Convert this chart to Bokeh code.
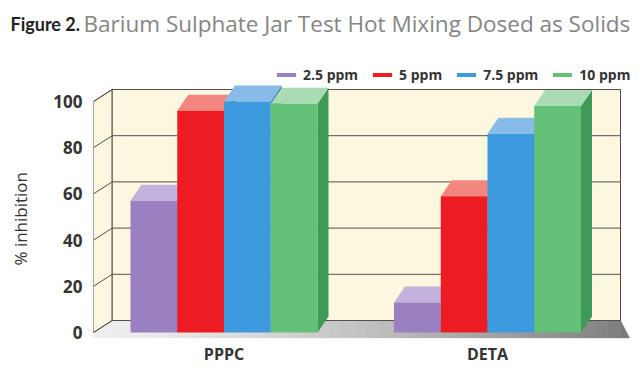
from bokeh.plotting import figure
from bokeh.layouts import column
from bokeh.models import Range1d, FixedTicker, Legend, LegendItem
from bokeh.core.properties import value
from bokeh.embed import file_html
from bokeh.resources import INLINE

# ---------------- data ----------------
title_bold = "Figure 2."
title_rest = "Barium Sulphate Jar Test Hot Mixing Dosed as Solids"
categories = ["PPPC", "DETA"]
series_names = ["2.5 ppm", "5 ppm", "7.5 ppm", "10 ppm"]
ppm_2_5 = [57, 13]
ppm_5 = [96, 59]
ppm_7_5 = [100, 86]
ppm_10 = [99, 98]
series_values = [ppm_2_5, ppm_5, ppm_7_5, ppm_10]
y_ticks = [0, 20, 40, 60, 80, 100]
y_label = "% inhibition"

# ---------------- styles ----------------
front_colors = ["#9b80c1", "#ed1c24", "#3d9ade", "#63c177"]
top_colors = ["#c1b2de", "#f3877f", "#88bbe8", "#a9dcb3"]
side_colors = ["#7c66a3", "#b5161c", "#2d7bb8", "#3f9a5a"]
wall_fill = "#fdf7df"
wall_line = "#505050"

# ---------------- layout (page pixels) ----------------
PAGE_W = 640
TITLE_H = 42
PX_X = 263.5   # pixels per category unit
PX_Y = 2.31    # pixels per % unit


def xu(px):
    return px / PX_X


def yu(px):
    return px / PX_Y


frame_left, frame_right, frame_top, frame_bottom = 93, 632, 50, 338
base_y = 332                    # page px of value 0 (front edge)
x_start = 0.5 - xu(223.5 - frame_left)
x_end = x_start + xu(frame_right - frame_left)
y_start = -yu(frame_bottom - base_y)
y_end = yu(base_y - frame_top)

# ---------------- title strip ----------------
t = figure(frame_width=PAGE_W, frame_height=TITLE_H, output_backend="svg", toolbar_location=None,
           x_range=Range1d(0, PAGE_W), y_range=Range1d(TITLE_H, 0),
           x_axis_type=None, y_axis_type=None, title=None,
           min_border_left=0, min_border_right=0, min_border_top=0, min_border_bottom=0)
t.xgrid.visible = False
t.ygrid.visible = False
t.outline_line_color = None
t.text(x=[10], y=[23], text=[title_bold], text_font=value("Lato"), text_font_style="bold",
       text_font_size="18px", text_color="#222222", text_baseline="alphabetic", text_align="left")
t.text(x=[83], y=[23], text=[title_rest], text_font=value("Open Sans"), text_font_style="normal",
       text_font_size="22.5px", text_color="#858585", text_baseline="alphabetic", text_align="left")

# ---------------- main chart ----------------
p = figure(frame_width=frame_right - frame_left, frame_height=frame_bottom - frame_top,
           output_backend="svg", toolbar_location=None, title=None,
           x_range=Range1d(x_start, x_end), y_range=Range1d(y_start, y_end),
           min_border_left=frame_left, min_border_right=PAGE_W - frame_right,
           min_border_top=frame_top - TITLE_H, min_border_bottom=0)
p.xgrid.visible = False
p.ygrid.visible = False
p.outline_line_color = None
p.background_fill_color = "white"
p.border_fill_color = "white"

for fig in (t, p):
    if "frame_align" in fig.properties():
        fig.frame_align = False

# walls
dxw, dyw = xu(18.7), yu(12)
x_back_r = 0.5 + xu(620 - 223.5)
x_floor_r = 0.5 + xu(629 - 223.5)
y_floor_b = -yu(337.5 - base_y)
top_val = y_ticks[-1]

# floor (gray gradient strips)
fx, fy, fc = [], [], []
fx.append([x_start, x_start + dxw, x_start + dxw, x_start])
fy.append([0, dyw, y_floor_b, y_floor_b])
fc.append("#eeeeee")
N = 40
for i in range(N):
    a = x_start + dxw + (x_back_r - x_start - dxw) * i / N
    b = x_start + dxw + (x_back_r - x_start - dxw) * (i + 1) / N
    fx.append([a, b, b, a])
    fy.append([y_floor_b, y_floor_b, dyw, dyw])
    g = int(238 - 110 * ((i + 0.5) / N) ** 1.3)
    fc.append("#%02x%02x%02x" % (g, g, g))
fx.append([x_back_r, x_floor_r, x_back_r])
fy.append([dyw, y_floor_b, y_floor_b])
fc.append("#7a7a7a")
p.patches(fx, fy, fill_color=fc, line_color=fc, line_width=0.6)

# side wall
p.patch([x_start, x_start + dxw, x_start + dxw, x_start], [0, dyw, top_val + dyw, top_val],
        fill_color=wall_fill, line_color=wall_line, line_width=1)
# back wall
p.quad(left=[x_start + dxw], right=[x_back_r], bottom=[dyw], top=[top_val + dyw],
       fill_color=wall_fill, line_color=wall_line, line_width=1)
# grid lines
for tk in y_ticks:
    p.segment(x0=[x_start], y0=[tk], x1=[x_start + dxw], y1=[tk + dyw], line_color=wall_line, line_width=1)
    p.segment(x0=[x_start + dxw], y0=[tk + dyw], x1=[x_back_r], y1=[tk + dyw], line_color=wall_line, line_width=1)

# bars
bw = xu(46.75)
dxb, dyb = xu(11), yu(16)
legend_items = []
for s, vals in enumerate(series_values):
    lefts = [g + 0.5 + (s - 2) * bw for g in range(len(categories))]
    rights = [l + bw for l in lefts]
    side_xs = [[r, r + dxb, r + dxb, r] for r in rights]
    side_ys = [[0, dyb, v + dyb, v] for v in vals]
    top_xs = [[l, r, r + dxb, l + dxb] for l, r in zip(lefts, rights)]
    top_ys = [[v, v, v + dyb, v + dyb] for v in vals]
    p.patches(side_xs, side_ys, fill_color=side_colors[s], line_color=None)
    p.patches(top_xs, top_ys, fill_color=top_colors[s], line_color=None)
    r = p.quad(left=lefts, right=rights, bottom=[0] * len(vals), top=vals,
               fill_color=front_colors[s], line_color=None)
    legend_items.append(LegendItem(label=series_names[s], renderers=[r]))

legend = Legend(items=legend_items, orientation="horizontal",
                location=(274 - frame_left, frame_bottom - 83.5),
                padding=0, margin=0, spacing=12, label_standoff=5,
                glyph_width=24, glyph_height=5, label_height=14,
                background_fill_alpha=0, border_line_alpha=0,
                label_text_font="Open Sans", label_text_font_style="bold",
                label_text_font_size="14px", label_text_color="#333333")
p.add_layout(legend)

# axes
for ax in (p.xaxis[0], p.yaxis[0]):
    ax.axis_line_color = None
    ax.major_tick_line_color = None
    ax.minor_tick_line_color = None
    ax.major_tick_out = 0
    ax.major_tick_in = 0
    ax.minor_tick_out = 0
    ax.minor_tick_in = 0

p.yaxis.ticker = FixedTicker(ticks=y_ticks)
p.yaxis.major_label_standoff = 11
p.yaxis.major_label_text_font = "Open Sans"
p.yaxis.major_label_text_font_style = "bold"
p.yaxis.major_label_text_font_size = "17px"
p.yaxis.major_label_text_color = "#333333"
p.yaxis.axis_label = y_label + "\u00a0" * 11
p.yaxis.axis_label_text_font = "Open Sans"
p.yaxis.axis_label_text_font_style = "normal"
p.yaxis.axis_label_text_font_size = "17px"
p.yaxis.axis_label_text_color = "#333333"
p.yaxis.axis_label_standoff = 18

p.xaxis.ticker = FixedTicker(ticks=[i + 0.5 for i in range(len(categories))])
p.xaxis.major_label_overrides = {i + 0.5: c for i, c in enumerate(categories)}
p.xaxis.major_label_standoff = 4
p.xaxis.major_label_text_font = "Open Sans"
p.xaxis.major_label_text_font_style = "bold"
p.xaxis.major_label_text_font_size = "16px"
p.xaxis.major_label_text_color = "#333333"

layout = column(t, p, spacing=0)
open("out.html", "w").write(file_html(layout, INLINE))
